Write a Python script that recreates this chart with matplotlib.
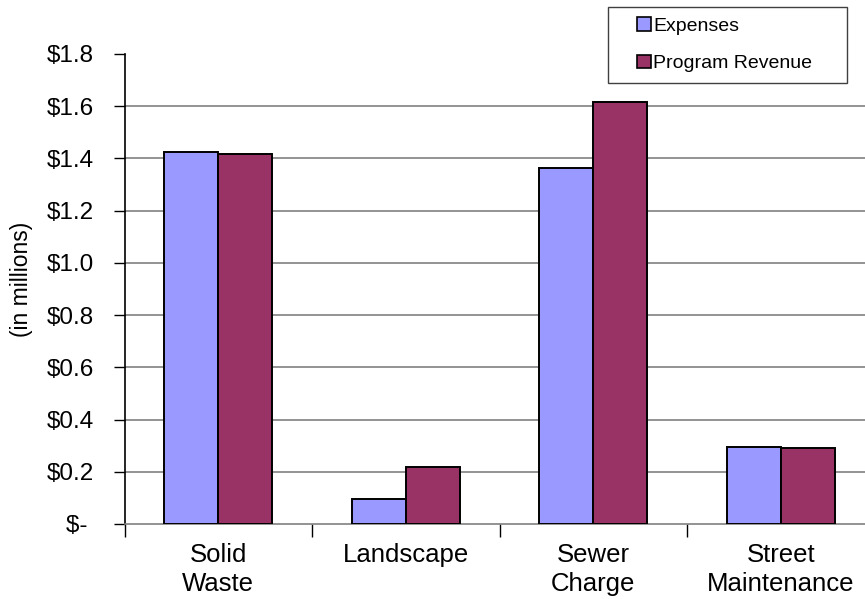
import matplotlib
matplotlib.use("Agg")
import matplotlib.pyplot as plt
import numpy as np
from matplotlib.ticker import FuncFormatter, FixedLocator
from matplotlib.patches import Patch, Rectangle

plt.rcParams['font.family'] = ['Liberation Sans', 'DejaVu Sans']

categories = ["Solid\nWaste", "Landscape", "Sewer\nCharge", "Street\nMaintenance"]
expenses = [1.424, 0.096, 1.365, 0.296]
program_revenue = [1.417, 0.217, 1.617, 0.292]
series_names = ["Expenses", "Program Revenue"]
y_ticks = [0.0, 0.2, 0.4, 0.6, 0.8, 1.0, 1.2, 1.4, 1.6, 1.8]

color_exp = "#9999FF"
color_rev = "#993366"

W, H = 865, 599
fig = plt.figure(figsize=(W / 100, H / 100), dpi=100)
ax = fig.add_axes([124.5 / W, 75 / H, 750 / W, 470 / H])

x = np.arange(len(categories))
w = 0.288
ax.bar(x - w / 2, expenses, w, color=color_exp, edgecolor="black", linewidth=1.4, zorder=3)
ax.bar(x + w / 2, program_revenue, w, color=color_rev, edgecolor="black", linewidth=1.4, zorder=3)

ax.set_xlim(-0.5, len(categories) - 0.5)
ax.set_ylim(0, 1.8)

ax.yaxis.set_major_locator(FixedLocator(y_ticks))
ax.yaxis.set_major_formatter(FuncFormatter(lambda v, p: "$- " if abs(v) < 1e-9 else f"${v:.1f}"))
ax.tick_params(axis="y", direction="out", length=8, width=1, labelsize=17.5, pad=14, color="black")
ax.yaxis.grid(True, color="#808080", linewidth=1.2, zorder=0)
ax.get_ygridlines()[-1].set_visible(False)
ax.get_ygridlines()[0].set_visible(False)

ax.set_xticks(x)
ax.set_xticklabels(categories, fontsize=18.5, linespacing=1.22)
ax.tick_params(axis="x", which="major", length=0, pad=14)
ax.set_xticks(np.arange(len(categories) + 1) - 0.5, minor=True)
ax.tick_params(axis="x", which="minor", direction="out", length=9, width=1, color="black")

for s in ["top", "right"]:
    ax.spines[s].set_visible(False)
ax.spines["left"].set_color("black")
ax.spines["left"].set_linewidth(1.2)
ax.spines["bottom"].set_color("#808080")
ax.spines["bottom"].set_linewidth(1.2)

ax.set_ylabel("(in millions)", fontsize=16.5)
ax.yaxis.set_label_coords(-0.122, 0.52)

# legend frame drawn as a fixed box, entries placed inside it
fig.patches.append(Rectangle((608 / W, 1 - 83 / H), 239 / W, 76 / H,
                             transform=fig.transFigure, facecolor="white",
                             edgecolor="#404040", linewidth=1.0, zorder=5))
handles = [Patch(facecolor=color_exp, edgecolor="black", linewidth=1.2),
           Patch(facecolor=color_rev, edgecolor="black", linewidth=1.2)]
leg = fig.legend(handles, series_names, loc="upper left",
                 bbox_to_anchor=(637 / W, 1 - 17 / H), bbox_transform=fig.transFigure,
                 fontsize=14, frameon=False, borderpad=0,
                 handlelength=0.72, handleheight=0.72, handletextpad=0.12,
                 labelspacing=1.02, borderaxespad=0)
leg.set_zorder(6)

fig.savefig("out.png", dpi=100)
